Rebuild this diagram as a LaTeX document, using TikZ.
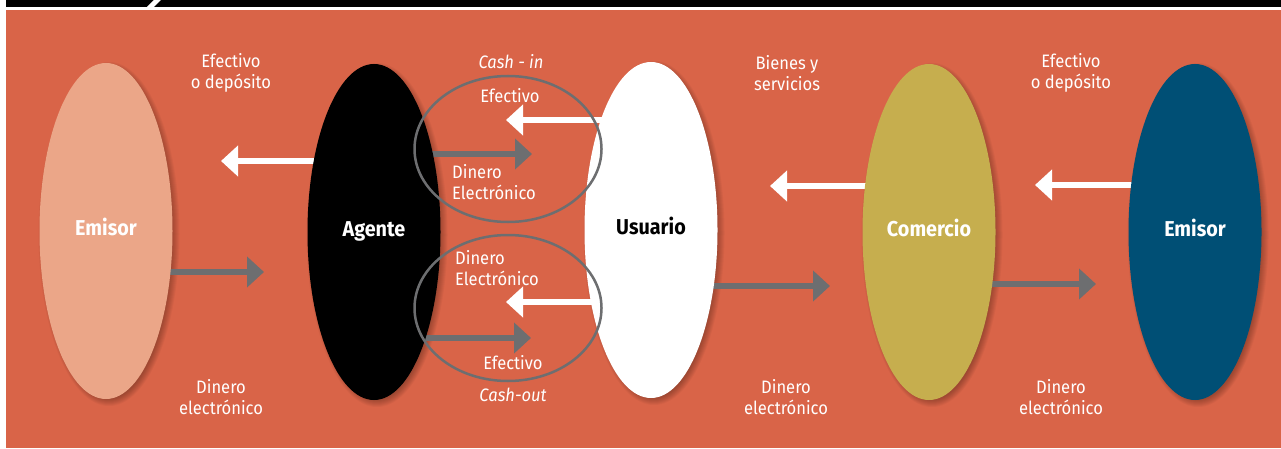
\documentclass[tikz,border=0pt]{standalone}
\usepackage{fontspec}
\setmainfont{Fira Sans}[FakeStretch=0.92]
\usetikzlibrary{shapes.geometric,arrows.meta}
\definecolor{bgor}{HTML}{D96448}
\definecolor{emisorL}{HTML}{EBA688}
\definecolor{comer}{HTML}{C6AE4E}
\definecolor{emisorR}{HTML}{004F75}
\definecolor{arrgray}{HTML}{6D6E70}
\pgfdeclarelayer{back}
\pgfdeclarelayer{mid}
\pgfsetlayers{back,mid,main}
\newcommand\myshade[1]{%
  \foreach \k in {0,...,7}{%
    \fill[black,opacity=0.035] ([shift={(3,3)}]#1.center) ellipse [x radius={(63.5+\k)*1pt}, y radius={(165+\k)*1pt}];}}
\begin{document}
\begin{tikzpicture}[x=1pt,y=-1pt,
  blob/.style={ellipse, minimum width=133pt, minimum height=336pt, inner sep=0pt,
    text height=14pt, text depth=6pt,
    font=\fontsize{21.5}{24}\selectfont\bfseries, text=white},
  lbl/.style={font=\fontsize{18}{21}\selectfont, text=white, align=center, inner sep=0pt},
  ital/.style={font=\fontsize{18}{21}\selectfont\itshape},
  warr/.style={draw=white, line width=5.5pt, -{Triangle[length=17pt,width=30pt]}},
  garr/.style={draw=arrgray, line width=6.5pt, -{Triangle[length=17pt,width=30pt]}},
  ring/.style={ellipse, draw=arrgray, line width=2.5pt, minimum width=187pt, minimum height=146pt, inner sep=0pt}]
\useasboundingbox (0,0) rectangle (1281,449);

% nodes
\node[blob, fill=emisorL] (e1) at (106,231) {Emisor};
\node[blob, fill=black] (ag) at (374,232) {Agente};
\node[blob, fill=white, text=black] (us) at (651,230) {Usuario};
\node[blob, fill=comer] (co) at (929,232) {Comercio};
\node[blob, fill=emisorR] (e2) at (1195,232) {Emisor};

\node[ring] (r1) at (508,149) {};
\node[ring] (r2) at (508,308) {};

% labels
\node[lbl] (l1) at (231,73) {Efectivo\\o depósito};
\node[lbl, ital] (l2) at (511,62) {Cash - in};
\node[lbl] (l3) at (510,96) {Efectivo};
\node[lbl, align=left, anchor=west] (l4) at (452,182) {Dinero\\Electrónico};
\node[lbl] (l5) at (787,73) {Bienes y\\servicios};
\node[lbl] (l6) at (1071,73) {Efectivo\\o depósito};
\node[lbl, align=left, anchor=west] (l7) at (455,268) {Dinero\\Electrónico};
\node[lbl] (l8) at (513,363) {Efectivo};
\node[lbl, ital] (l9) at (513,395) {Cash-out};
\node[lbl] (l10) at (221,397) {Dinero\\electrónico};
\node[lbl] (l11) at (786,397) {Dinero\\electrónico};
\node[lbl] (l12) at (1061,397) {Dinero\\electrónico};

% tips
\coordinate (t1) at (221,161);
\coordinate (t2) at (264,272);
\coordinate (t3) at (532,154);
\coordinate (t4) at (506,120);
\coordinate (t5) at (506,302);
\coordinate (t6) at (531,338);
\coordinate (t7) at (830,286);
\coordinate (t8) at (770,186);
\coordinate (t9) at (1035,185);
\coordinate (t10) at (1096,284);

\begin{pgfonlayer}{back}
  \fill[white] (0,0) rectangle (1281,449);
  \fill[black] (6,0) rectangle (1281,7);
  \fill[white] (147,7) -- (154,7) -- (161,0) -- (154,0) -- cycle;
  \fill[bgor] (6,10) rectangle (1281,448);
\end{pgfonlayer}

\begin{pgfonlayer}{mid}
  \myshade{e1}\myshade{ag}\myshade{us}\myshade{co}\myshade{e2}
  \draw[warr] (ag.center |- t1) -- (t1);
  \draw[garr] (e1.center |- t2) -- (t2);
  \draw[garr] (ag.center |- t3) -- (t3);
  \draw[warr] (us.center |- t4) -- (t4);
  \draw[warr] (us.center |- t5) -- (t5);
  \draw[garr] (ag.center |- t6) -- (t6);
  \draw[garr] (us.center |- t7) -- (t7);
  \draw[warr] (co.center |- t8) -- (t8);
  \draw[warr] (e2.center |- t9) -- (t9);
  \draw[garr] (co.center |- t10) -- (t10);
\end{pgfonlayer}
\end{tikzpicture}
\end{document}
